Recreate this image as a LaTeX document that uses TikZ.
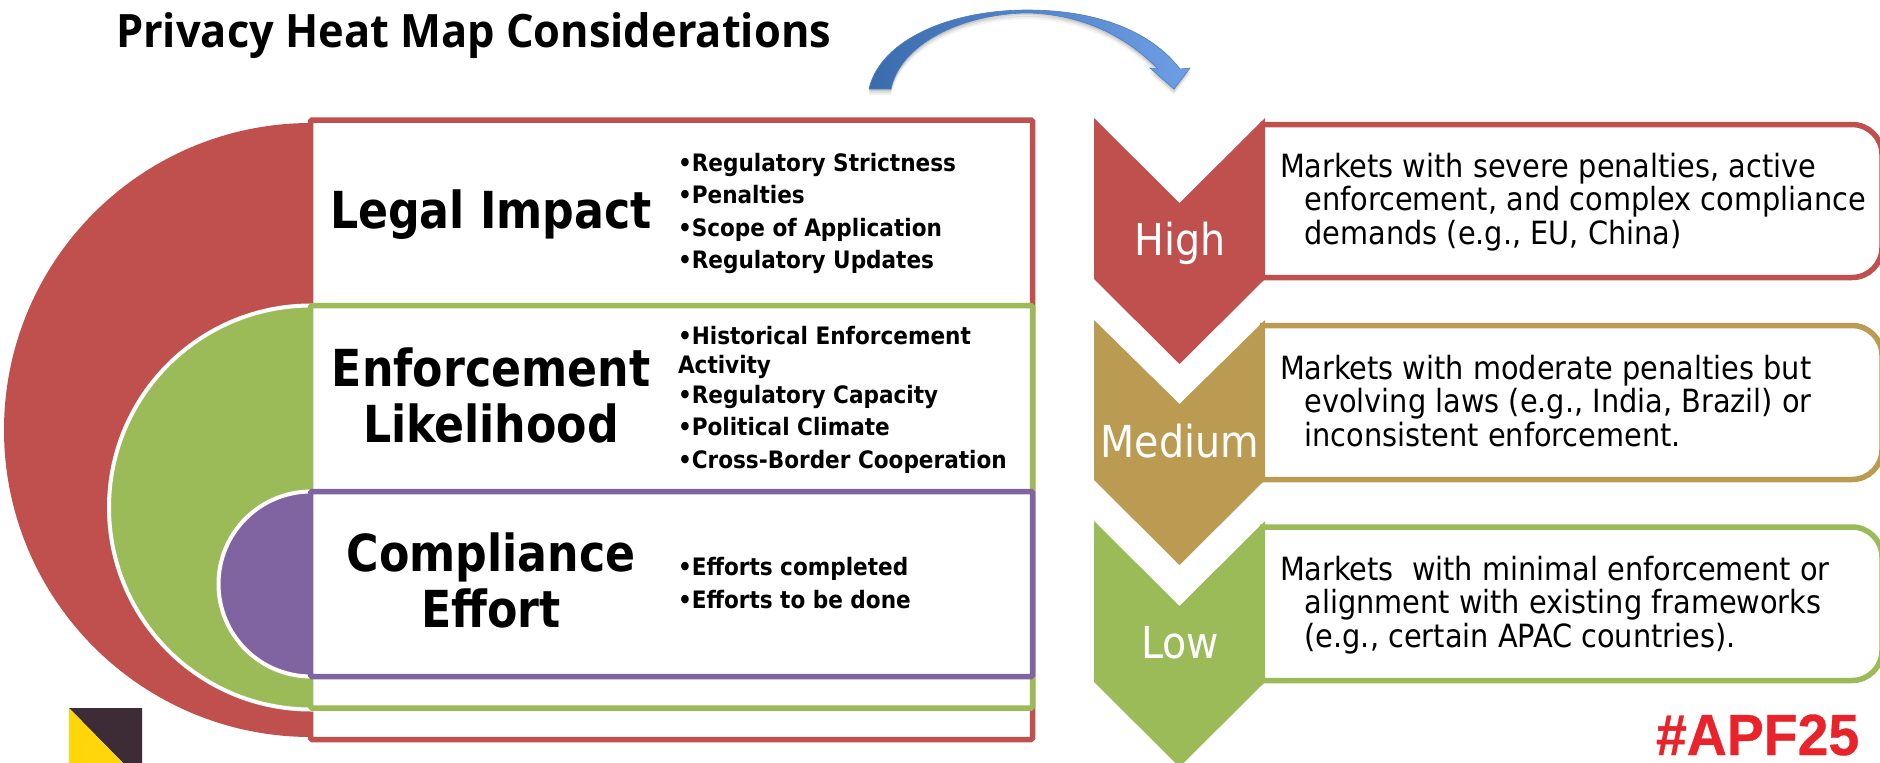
\documentclass[tikz,border=0pt]{standalone}
\usepackage{fontspec}
\setmainfont{DejaVu Sans Condensed}
\newfontfamily\headfont[FakeStretch=0.965]{DejaVu Sans Condensed}
\newfontfamily\titlefont[FakeStretch=0.943]{Open Sans}
\newfontfamily\tagfont[FakeStretch=0.955,FakeBold=0.6]{Liberation Sans}
\usetikzlibrary{calc}
\definecolor{cred}{HTML}{C0504D}
\definecolor{cgreen}{HTML}{9BBB59}
\definecolor{cpurple}{HTML}{8064A2}
\definecolor{ctan}{HTML}{BB9A52}
\definecolor{cblue}{HTML}{4A7EBB}
\definecolor{cbluel}{HTML}{3A6CAD}
\definecolor{cbluer}{HTML}{6E9FE6}
\definecolor{ctag}{HTML}{E8232A}
\definecolor{clogod}{HTML}{3D2B35}
\definecolor{clogoy}{HTML}{FFD60A}
\tikzset{
 x=1pt,y=-1pt,
 txt/.style={inner sep=0pt,outer sep=0pt,text=black},
 boxline/.style={line width=5.5pt,fill=white,rounded corners=1.5pt},
 halfdisc/.style={line width=4pt,draw=white},
 heading/.style={txt,anchor=base,align=center,font=\headfont\bfseries\fontsize{51}{56}\selectfont},
 bullets/.style={txt,anchor=base west,align=left,font=\bfseries\fontsize{24}{32.5}\selectfont},
 bulletstight/.style={bullets,font=\bfseries\fontsize{24}{29.5}\selectfont},
 level/.style={txt,anchor=base,text=white,font=\fontsize{44}{48}\selectfont},
 desc/.style={txt,anchor=base west,align=left,font=\fontsize{32}{33.5}\selectfont},
 market/.style={line width=5.5pt,fill=white},
}
\begin{document}
\begin{tikzpicture}
\useasboundingbox (0,0) rectangle (1880,763);
\fill[white] (0,0) rectangle (1880,763);
% title
\node[txt,anchor=base west,font=\titlefont\bfseries\fontsize{46}{50}\selectfont] (title) at (116,47) {Privacy Heat Map Considerations};
% curved arrow shadow
\foreach \o/\k in {2/0.10,4/0.08,6/0.05}{
\fill[black,opacity=\k,yshift=-\o pt] (869,89) .. controls (880,40) and (950,10) .. (1027,10) .. controls (1095,10) and (1150,30) .. (1180,69) -- (1190,68) -- (1174,89) -- (1150,68) -- (1158,69) .. controls (1125,35) and (1080,14) .. (1027,13) .. controls (960,14) and (900,45) .. (891,89) -- cycle;}
\shade[left color=cbluel,right color=cbluer,draw=cblue,line width=.6pt] (869,89) .. controls (880,40) and (950,10) .. (1027,10) .. controls (1095,10) and (1150,30) .. (1180,69) -- (1190,68) -- (1174,89) -- (1150,68) -- (1158,69) .. controls (1125,35) and (1080,14) .. (1027,13) .. controls (960,14) and (900,45) .. (891,89) -- cycle;
% half discs and boxes
\fill[cred] (311,123) arc[start angle=270,end angle=90,radius=307] -- cycle;
\draw[boxline,draw=cred] (310.5,120) rectangle (1032.5,739.5);
\filldraw[cgreen,halfdisc] (311,305.5) arc[start angle=270,end angle=90,radius=202] -- cycle;
\draw[boxline,draw=cgreen] (310.5,305.5) rectangle (1032.5,708);
\filldraw[cpurple,halfdisc] (311,491.5) arc[start angle=270,end angle=90,radius=92.5] -- cycle;
\draw[boxline,draw=cpurple] (310.5,491.5) rectangle (1032.5,676.5);
% headings
\node[heading] (legal) at (491,228) {Legal Impact};
\node[heading] (enf) at (491,442) {Enforcement\\Likelihood};
\node[heading] (comp) at (491,627) {Compliance\\Effort};
% bullets
\node[bullets] (b1) at (678,268.5) {•Regulatory Strictness\\•Penalties\\•Scope of Application\\•Regulatory Updates};
\node[bulletstight] (b2) at (678,468) {•Historical Enforcement\\Activity\\•Regulatory Capacity\\[3pt]•Political Climate\\[3pt]•Cross-Border Cooperation};
\node[bullets] (b3) at (678,608) {•Efforts completed\\•Efforts to be done};
% right boxes
\draw[market,draw=cred] (1260,124.5) -- (1852,124.5) arc[start angle=-90,end angle=0,radius=30] -- (1882,247.5) arc[start angle=0,end angle=90,radius=30] -- (1260,277.5);
\draw[market,draw=ctan] (1260,325.5) -- (1852,325.5) arc[start angle=-90,end angle=0,radius=30] -- (1882,449.5) arc[start angle=0,end angle=90,radius=30] -- (1260,479.5);
\draw[market,draw=cgreen] (1260,527) -- (1852,527) arc[start angle=-90,end angle=0,radius=30] -- (1882,650.5) arc[start angle=0,end angle=90,radius=30] -- (1260,680.5);
% chevrons
\fill[cred] (1094,118) -- (1179.5,203) -- (1265,118) -- (1265,279) -- (1179.5,364) -- (1094,279) -- cycle;
\fill[ctan] (1094,320) -- (1179.5,404) -- (1265,320) -- (1265,480) -- (1179.5,565) -- (1094,480) -- cycle;
\fill[cgreen] (1094,521) -- (1179.5,606) -- (1265,521) -- (1265,682) -- (1179.5,767) -- (1094,682) -- cycle;
\node[level] (high) at (1180,255) {High};
\node[level] (med) at (1180,457) {Medium};
\node[level] (low) at (1180,658) {Low};
% market text
\node[desc] (d1) at (1280,244) {Markets with severe penalties, active\\\hspace*{24.5pt}enforcement, and complex compliance\\\hspace*{24.5pt}demands (e.g., EU, China)};
\node[desc] (d2) at (1280,446) {Markets with moderate penalties but\\\hspace*{24.5pt}evolving laws (e.g., India, Brazil) or\\\hspace*{24.5pt}inconsistent enforcement.};
\node[desc] (d3) at (1280,647) {Markets\ \ with minimal enforcement or\\\hspace*{24.5pt}alignment with existing frameworks\\\hspace*{24.5pt}(e.g., certain APAC countries).};
% logo
\fill[clogod] (69,708) -- (142,708) -- (142,763) -- (123,763) -- cycle;
\fill[clogoy] (69,708) -- (123,763) -- (69,763) -- cycle;
% tag
\node[txt,anchor=base west,text=ctag,font=\tagfont\bfseries\fontsize{58}{60}\selectfont] (tag) at (1656,755) {\#APF25};
\end{tikzpicture}
\end{document}
